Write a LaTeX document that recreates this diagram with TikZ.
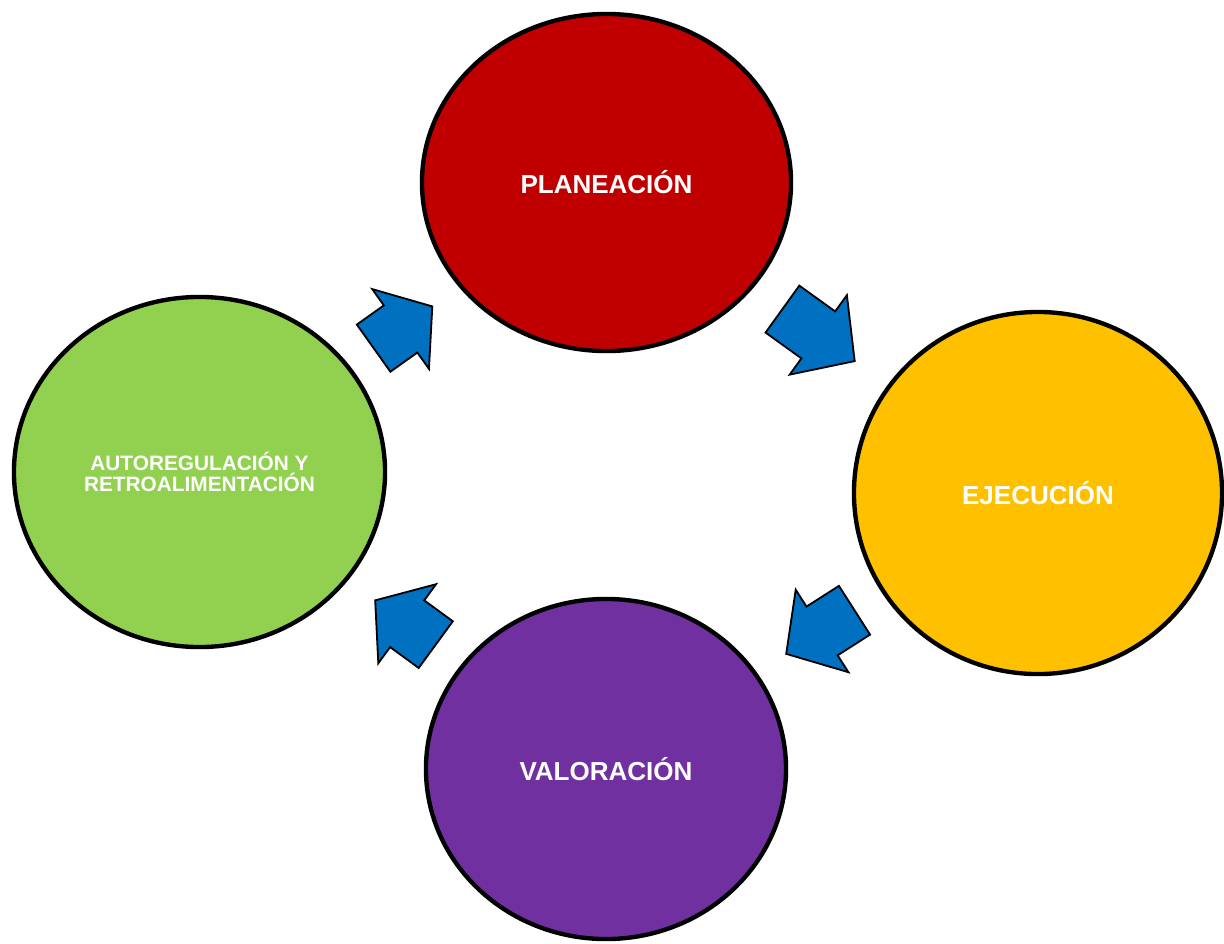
\documentclass[tikz,border=0pt]{standalone}
\usepackage{fontspec}
\setmainfont{Liberation Sans}
\usetikzlibrary{shapes.geometric, shapes.arrows}
\definecolor{planred}{HTML}{C00000}
\definecolor{ejecyellow}{HTML}{FFC000}
\definecolor{valorpurple}{HTML}{7030A0}
\definecolor{autogreen}{HTML}{92D050}
\definecolor{arrowblue}{HTML}{0070C0}
\tikzstyle{phase} = [ellipse, draw, line width=3.1pt, text=white, inner sep=0pt,
                 align=center, font=\fontsize{18.5}{22}\selectfont\bfseries]
\tikzstyle{flecha} = [single arrow, draw, fill=arrowblue, line width=1.3pt,
                 inner xsep=0pt, inner ysep=0.7cm, anchor=tail,
                 single arrow head extend=0.5cm]
\begin{document}
\begin{tikzpicture}[x=0.025cm, y=-0.025cm]
\useasboundingbox (0,0) rectangle (1224,943);

% the four phases
\node [phase, fill=planred, minimum width=9.225cm, minimum height=8.425cm]
	(plan) at (606.5,182.5) {PLANEACIÓN};
\node [phase, fill=ejecyellow, minimum width=9.2cm, minimum height=9.05cm]
	(ejec) at (1038,493) {EJECUCIÓN};
\node [phase, fill=valorpurple, minimum width=9cm, minimum height=8.5cm]
	(valor) at (606,769) {VALORACIÓN};
\node [phase, fill=autogreen, minimum width=9.275cm, minimum height=8.75cm,
	font=\fontsize{14.8}{15}\selectfont\bfseries]
	(auto) at (199.5,472) {AUTOREGULACIÓN Y\\RETROALIMENTACIÓN};

% block arrows between the phases
\foreach \from/\to/\name/\p/\len/\tip in {auto/plan/a1/0.426/1.8/103,
		plan/ejec/a2/0.406/2.225/95, ejec/valor/a3/0.423/2.025/98,
		valor/auto/a4/0.417/1.875/102}
	\path (\from.center) -- node [flecha, pos=\p, sloped, allow upside down,
		minimum height=\len cm, single arrow tip angle=\tip] (\name) {}
		(\to.center);

\end{tikzpicture}
\end{document}
